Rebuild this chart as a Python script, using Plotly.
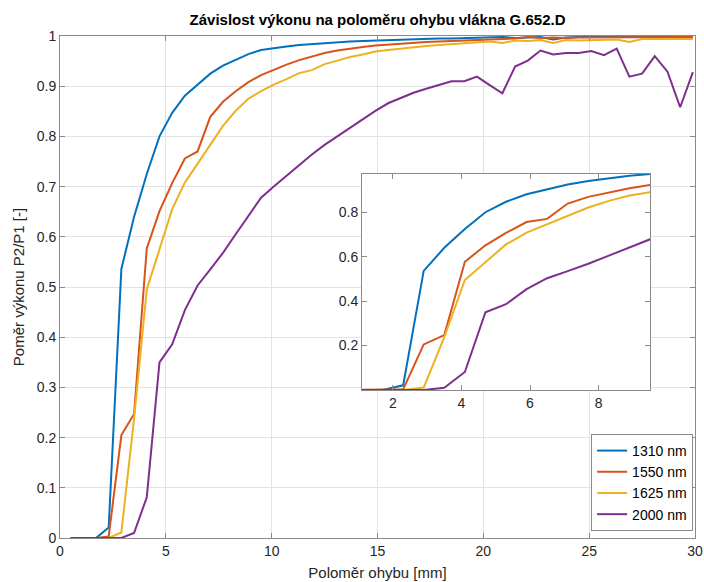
import plotly.graph_objects as go

radius_mm = [0.5, 1.1, 1.7, 2.3, 2.9, 3.5, 4.1, 4.7, 5.3, 5.9,
             6.5, 7.1, 7.7, 8.3, 8.9, 9.5, 10.1, 10.7, 11.3, 11.9,
             12.5, 13.1, 13.7, 14.3, 14.9, 15.5, 16.1, 16.7, 17.3, 17.9,
             18.5, 19.1, 19.7, 20.3, 20.9, 21.5, 22.1, 22.7, 23.3, 23.9,
             24.5, 25.1, 25.7, 26.3, 26.9, 27.5, 28.1, 28.7, 29.3, 29.9]

p_1310 = [0, 0, 0, 0.021, 0.536, 0.64, 0.725, 0.80, 0.847, 0.881,
          0.904, 0.925, 0.941, 0.953, 0.964, 0.972, 0.976, 0.979, 0.982, 0.984,
          0.986, 0.988, 0.989, 0.990, 0.991, 0.992, 0.993, 0.994, 0.994, 0.995,
          0.995, 0.996, 0.996, 0.997, 0.998, 0.996, 0.997, 0.998, 0.993, 0.997,
          0.998, 0.998, 0.998, 0.999, 0.999, 0.999, 0.999, 0.999, 0.999, 0.999]

p_1550 = [0, 0, 0, 0.003, 0.205, 0.247, 0.577, 0.651, 0.707, 0.756,
          0.770, 0.839, 0.869, 0.890, 0.908, 0.922, 0.933, 0.943, 0.952, 0.959,
          0.966, 0.971, 0.975, 0.978, 0.981, 0.983, 0.985, 0.986, 0.988, 0.989,
          0.990, 0.991, 0.992, 0.993, 0.994, 0.995, 0.998, 0.996, 0.997, 0.996,
          0.997, 0.997, 0.998, 0.997, 0.997, 0.998, 0.998, 0.998, 0.998, 0.998]

p_1625 = [0, 0, 0, 0, 0.011, 0.238, 0.495, 0.576, 0.655, 0.708,
          0.746, 0.785, 0.821, 0.851, 0.875, 0.890, 0.903, 0.914, 0.926, 0.932,
          0.944, 0.951, 0.958, 0.963, 0.969, 0.972, 0.975, 0.978, 0.980, 0.982,
          0.984, 0.986, 0.988, 0.989, 0.986, 0.991, 0.990, 0.992, 0.986, 0.992,
          0.991, 0.992, 0.993, 0.993, 0.988, 0.994, 0.994, 0.994, 0.994, 0.994]

p_2000 = [0, 0, 0, 0, 0, 0.010, 0.081, 0.350, 0.386, 0.454,
          0.503, 0.535, 0.568, 0.605, 0.641, 0.678, 0.700, 0.722, 0.743, 0.764,
          0.783, 0.800, 0.817, 0.834, 0.851, 0.866, 0.877, 0.887, 0.895, 0.903,
          0.910, 0.910, 0.919, 0.902, 0.886, 0.939, 0.951, 0.971, 0.963, 0.966,
          0.966, 0.970, 0.962, 0.975, 0.919, 0.925, 0.960, 0.929, 0.858, 0.928]

series = [("1310 nm", p_1310, "#0072BD"),
          ("1550 nm", p_1550, "#D95319"),
          ("1625 nm", p_1625, "#EDB120"),
          ("2000 nm", p_2000, "#7E2F8E")]

FONT = "Liberation Sans, Arial, sans-serif"
AXC = "#8a8a8a"
GRID = "#e3e3e3"

fig = go.Figure()
for name, ys, col in series:
    fig.add_trace(go.Scatter(x=radius_mm, y=ys, mode="lines", name=name,
                             line=dict(color=col, width=2), xaxis="x", yaxis="y"))
for name, ys, col in series:
    fig.add_trace(go.Scatter(x=radius_mm, y=ys, mode="lines", name=name, showlegend=False,
                             line=dict(color=col, width=2), xaxis="x2", yaxis="y2"))

W, H = 704, 582
L, R, T, B = 60, 9, 36, 44
pw, ph = W - L - R, H - T - B
ix0 = (362 - L) / pw
ix1 = (650 - L) / pw
iy0 = (H - B - 390) / ph
iy1 = (H - B - 174) / ph

common = dict(showline=True, linecolor=AXC, linewidth=1, mirror="ticks",
              ticks="inside", ticklen=5, tickcolor=AXC, automargin=False,
              tickfont=dict(family=FONT, size=14, color="#262626"), zeroline=False)

fig.update_layout(
    width=W, height=H,
    margin=dict(l=L, r=R, t=T, b=B),
    paper_bgcolor="white", plot_bgcolor="white",
    font=dict(family=FONT, color="#262626"),
    title=dict(text="<b>Závislost výkonu na poloměru ohybu vlákna G.652.D</b>",
               x=0.5, xref="paper", xanchor="center",
               y=1 - 20 / H, yref="container", yanchor="middle",
               font=dict(family=FONT, size=15, color="#000000")),
    xaxis=dict(domain=[0, 1], range=[0, 30], dtick=5, showgrid=True, gridcolor=GRID,
               title=dict(text="Poloměr ohybu [mm]", standoff=9,
                          font=dict(family=FONT, size=15, color="#262626")),
               **common),
    yaxis=dict(domain=[0, 1], range=[0, 1], dtick=0.1, showgrid=True, gridcolor=GRID,
               title=dict(text="Poměr výkonu P2/P1 [-]", standoff=8,
                          font=dict(family=FONT, size=15, color="#262626")),
               **common),
    xaxis2=dict(domain=[ix0, ix1], anchor="y2", range=[1.1, 9.5],
                tickvals=[2, 4, 6, 8], showgrid=False, **common),
    yaxis2=dict(domain=[iy0, iy1], anchor="x2", range=[0, 0.972],
                tickvals=[0.2, 0.4, 0.6, 0.8], showgrid=False, **common),
    shapes=[dict(type="rect", xref="x2 domain", yref="y2 domain", x0=0, x1=1, y0=0, y1=1,
                 fillcolor="white", line=dict(width=0), layer="below")],
    legend=dict(x=0.997, y=0.014, xanchor="right", yanchor="bottom",
                bgcolor="white", bordercolor=AXC, borderwidth=1,
                font=dict(family=FONT, size=14, color="#000000"),
                tracegroupgap=0),
    showlegend=True,
)

fig.write_html("out.html")
